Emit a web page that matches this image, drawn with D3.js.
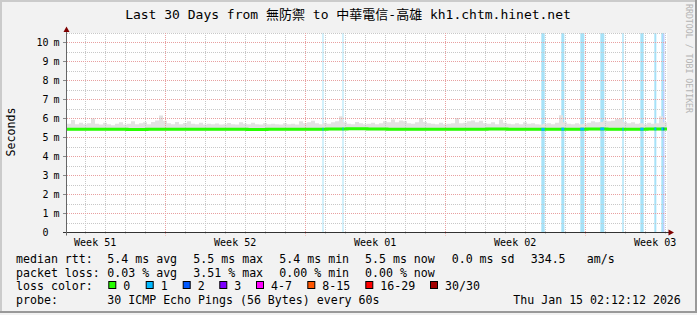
<!DOCTYPE html>
<html>
<head>
<meta charset="utf-8">
<script src="https://cdn.jsdelivr.net/npm/d3@7"></script>
<style>
  body { margin: 0; background: #fff; }
  text { font-family: "DejaVu Sans Mono", "Noto Sans CJK TC", monospace; }
</style>
</head>
<body>
<div id="chart"></div>
<script>
// Data
const startTime = "2025-12-16T02:12:12Z";
const endTime = "2026-01-15T02:12:12Z";
const smokeStepHours = 4.8;

// top of the smoke (slowest ping), ms, one value per 4.8 h
const smokeTop = [
  5.72, 5.92, 5.70, 5.78, 5.70, 5.75, 6.00, 5.72, 5.68, 5.78,
  5.70, 5.65, 5.72, 5.80, 5.68, 5.72, 5.85, 5.70, 5.75, 5.80,
  5.70, 5.82, 5.90, 6.16, 5.88, 5.75, 5.70, 5.82, 5.70, 5.76,
  5.85, 5.72, 5.70, 5.78, 5.68, 5.72, 5.70, 5.74, 5.68, 5.70,
  5.76, 5.70, 5.68, 5.80, 5.72, 5.70, 5.78, 5.70, 5.68, 5.75,
  5.70, 5.72, 5.70, 5.68, 5.75, 5.70, 5.72, 5.68, 5.85, 5.75,
  5.80, 5.88, 5.75, 5.70, 5.78, 5.72, 5.80, 5.85, 6.12, 5.80,
  5.72, 5.70, 5.82, 5.75, 5.70, 5.72, 5.78, 5.70, 5.75, 5.85,
  5.80, 5.95, 5.80, 5.90, 5.85, 5.75, 5.72, 5.80, 6.03, 5.82,
  5.75, 5.72, 5.70, 5.78, 5.70, 5.72, 5.75, 6.03, 5.75, 5.78,
  5.85, 5.90, 5.80, 5.88, 5.75, 5.72, 5.80, 5.70, 5.95, 5.78,
  5.72, 5.70, 5.75, 5.70, 5.80, 5.72, 5.75, 5.70, 5.68, 5.72,
  5.75, 5.70, 5.78, 6.17, 5.80, 5.72, 5.70, 5.75, 5.70, 5.72,
  5.78, 5.85, 5.80, 5.82, 5.90, 5.85, 5.88, 5.98, 6.00, 5.82,
  5.75, 5.80, 5.72, 5.75, 5.70, 5.78, 5.72, 5.75, 6.12, 5.80
];

// bottom of the smoke (fastest ping) and median rtt, ms, one value per day
const smokeMin = [
  5.36, 5.37, 5.36, 5.35, 5.36, 5.37, 5.36, 5.36, 5.35, 5.36,
  5.37, 5.36, 5.36, 5.37, 5.38, 5.37, 5.36, 5.36, 5.37, 5.36,
  5.36, 5.37, 5.36, 5.36, 5.37, 5.36, 5.37, 5.36, 5.37, 5.37
];
const medianRtt = [
  5.44, 5.43, 5.44, 5.42, 5.44, 5.43, 5.44, 5.44, 5.43, 5.42,
  5.44, 5.43, 5.44, 5.45, 5.46, 5.45, 5.44, 5.43, 5.44, 5.43,
  5.44, 5.45, 5.44, 5.43, 5.44, 5.44, 5.45, 5.44, 5.44, 5.45
];

// loss events
const lossStart = [
  "2025-12-28T20:48:00Z", "2025-12-29T20:48:00Z", "2026-01-08T19:24:00Z",
  "2026-01-09T19:24:00Z", "2026-01-10T18:12:00Z", "2026-01-11T18:12:00Z",
  "2026-01-12T20:36:00Z", "2026-01-13T18:12:00Z", "2026-01-14T11:00:00Z",
  "2026-01-14T19:24:00Z", "2026-01-14T21:48:00Z"
];
const lossHours = [1.2, 1.2, 4.0, 3.6, 4.8, 4.8, 1.6, 4.0, 2.4, 2.4, 1.2];
const lossCount = [1, 1, 1, 1, 1, 1, 1, 1, 1, 1, 2];

const yTicks = [0, 1, 2, 3, 4, 5, 6, 7, 8, 9, 10];
const yMinorTicks = [0.5, 1.5, 2.5, 3.5, 4.5, 5.5, 6.5, 7.5, 8.5, 9.5, 10.5];

const title = "Last 30 Days from 無防禦 to 中華電信-高雄 kh1.chtm.hinet.net";
const rttStats = ["median rtt:", "5.4 ms avg", "5.5 ms max", "5.4 ms min", "5.5 ms now", "0.0 ms sd", "334.5", "am/s"];
const lossStats = ["packet loss:", "0.03 % avg", "3.51 % max", "0.00 % min", "0.00 % now"];
const lossLabels = ["0", "1", "2", "3", "4-7", "8-15", "16-29", "30/30"];
const probeInfo = ["probe:", "30 ICMP Echo Pings (56 Bytes) every 60s", "Thu Jan 15 02:12:12 2026"];

// Styles / layout
const lossPalette = ["#26ff00", "#00b8ff", "#0059ff", "#7e00ff", "#ff00ff", "#ff5500", "#ff0000", "#a10000"];
const lossBgPalette = ["#ffffff", "#a6e2f8", "#a9bcff"];
const statCols = [16, 107.3, 193.3, 279.3, 365, 451.7, 530.7, 586.7];
const boxCols = [108.3, 145.7, 182.7, 219.3, 256, 307.3, 365.3, 430];
const rowY = [263, 276.5, 290, 303.5];

const dimensions = {
  width: 697,
  height: 315,
  left: 67,
  right: 667,
  top: 33,
  bottom: 232.5
};

const svg = d3
  .select("#chart")
  .append("svg")
  .attr("width", dimensions.width)
  .attr("height", dimensions.height);

// Background and frame
svg.append("rect").attr("width", dimensions.width).attr("height", dimensions.height).attr("fill", "#f2f2f2");
svg.append("rect").attr("x", 0).attr("y", 0).attr("width", 697).attr("height", 2).attr("fill", "#cbcbcb");
svg.append("rect").attr("x", 0).attr("y", 0).attr("width", 2).attr("height", 313).attr("fill", "#cbcbcb");
svg.append("rect").attr("x", 0).attr("y", 311).attr("width", 697).attr("height", 2).attr("fill", "#999");
svg.append("rect").attr("x", 695).attr("y", 0).attr("width", 2).attr("height", 313).attr("fill", "#999");

// Scales
const start = new Date(startTime);
const end = new Date(endTime);
const xScale = d3.scaleUtc().domain([start, end]).range([dimensions.left, dimensions.right]);
const yScale = d3.scaleLinear().domain([0, 10.5]).range([dimensions.bottom, dimensions.bottom - 19 * 10.5]);
const crisp = (v) => Math.round(v - 0.5) + 0.5;

// Canvas
svg
  .append("rect")
  .attr("x", dimensions.left)
  .attr("y", dimensions.top)
  .attr("width", dimensions.right - dimensions.left)
  .attr("height", dimensions.bottom - dimensions.top)
  .attr("fill", "#fff");

// Loss background bars
const lossData = lossStart.map((s, i) => {
  const t0 = new Date(s);
  return { t0, t1: new Date(+t0 + lossHours[i] * 3600e3), loss: lossCount[i] };
});

svg
  .append("g")
  .selectAll("rect")
  .data(lossData)
  .join("rect")
  .attr("x", (d) => xScale(d.t0))
  .attr("y", dimensions.top)
  .attr("width", (d) => Math.max(1, xScale(d.t1) - xScale(d.t0)))
  .attr("height", dimensions.bottom - dimensions.top)
  .attr("fill", (d) => lossBgPalette[d.loss]);

// Smoke
const smokeData = smokeTop.map((v, i) => {
  const t = new Date(+start + i * smokeStepHours * 3600e3);
  return { t, top: v, min: smokeMin[Math.floor((i * smokeStepHours) / 24)] };
});
smokeData.push({ t: end, top: smokeTop[smokeTop.length - 1], min: smokeMin[smokeMin.length - 1] });

svg
  .append("path")
  .datum(smokeData)
  .attr("fill", "#e2e2e2")
  .attr(
    "d",
    d3
      .area()
      .curve(d3.curveStepAfter)
      .x((d) => xScale(d.t))
      .y0((d) => yScale(d.min))
      .y1((d) => yScale(d.top))
  );

// Grid
const grid = svg.append("g").attr("stroke-dasharray", "1,1").attr("stroke-width", 1);

grid
  .selectAll(".hminor")
  .data(yMinorTicks)
  .join("line")
  .attr("x1", dimensions.left)
  .attr("x2", dimensions.right)
  .attr("y1", (d) => crisp(yScale(d)))
  .attr("y2", (d) => crisp(yScale(d)))
  .attr("stroke", "#c8c8c8");

const days = d3.utcDay.range(start, end);
const sundays = d3.utcSunday.range(start, end);

grid
  .selectAll(".vminor")
  .data(days.filter((d) => d.getUTCDay() !== 0))
  .join("line")
  .attr("x1", (d) => crisp(xScale(d)))
  .attr("x2", (d) => crisp(xScale(d)))
  .attr("y1", dimensions.top)
  .attr("y2", dimensions.bottom + 2)
  .attr("stroke", "#c8c8c8");

grid
  .selectAll(".hmajor")
  .data(yTicks.slice(1))
  .join("line")
  .attr("x1", dimensions.left)
  .attr("x2", dimensions.right)
  .attr("y1", (d) => crisp(yScale(d)))
  .attr("y2", (d) => crisp(yScale(d)))
  .attr("stroke", "#e8a0a0");

grid
  .selectAll(".vmajor")
  .data(sundays)
  .join("line")
  .attr("x1", (d) => crisp(xScale(d)))
  .attr("x2", (d) => crisp(xScale(d)))
  .attr("y1", dimensions.top)
  .attr("y2", dimensions.bottom + 3)
  .attr("stroke", "#e8a0a0");

// Y tick marks
svg
  .append("g")
  .selectAll("line")
  .data(yTicks)
  .join("line")
  .attr("x1", 63)
  .attr("x2", dimensions.left)
  .attr("y1", (d) => crisp(yScale(d)))
  .attr("y2", (d) => crisp(yScale(d)))
  .attr("stroke", "#888");

// Median line
const medianData = medianRtt.map((v, i) => ({ t: new Date(+start + i * 24 * 3600e3), v }));
medianData.push({ t: end, v: medianRtt[medianRtt.length - 1] });
const medianAt = (t) => medianRtt[Math.min(medianRtt.length - 1, Math.floor((t - start) / (24 * 3600e3)))];

svg
  .append("path")
  .datum(medianData)
  .attr("fill", "none")
  .attr("stroke", lossPalette[0])
  .attr("stroke-width", 3)
  .attr(
    "d",
    d3
      .line()
      .curve(d3.curveStepAfter)
      .x((d) => xScale(d.t))
      .y((d) => yScale(d.v))
  );

svg
  .append("g")
  .selectAll("line")
  .data(lossData)
  .join("line")
  .attr("x1", (d) => xScale(d.t0))
  .attr("x2", (d) => Math.max(xScale(d.t0) + 1, xScale(d.t1)))
  .attr("y1", (d) => yScale(medianAt(d.t0)))
  .attr("y2", (d) => yScale(medianAt(d.t0)))
  .attr("stroke", (d) => lossPalette[d.loss])
  .attr("stroke-width", 3);

// Axes
const axisColor = "#333";
svg
  .append("line")
  .attr("x1", 63)
  .attr("x2", dimensions.right + 2)
  .attr("y1", dimensions.bottom)
  .attr("y2", dimensions.bottom)
  .attr("stroke", axisColor);
svg
  .append("line")
  .attr("x1", 66.5)
  .attr("x2", 66.5)
  .attr("y1", dimensions.bottom + 3)
  .attr("y2", 30)
  .attr("stroke", "#666");
svg.append("path").attr("d", "M66.5,26.5L63.5,32L69.5,32Z").attr("fill", "#7f0000");
svg
  .append("path")
  .attr("d", `M674,${dimensions.bottom}L668.5,${dimensions.bottom - 3}L668.5,${dimensions.bottom + 3}Z`)
  .attr("fill", "#7f0000");

// Y labels
const yLabels = svg.append("g").style("font-size", "10px").attr("fill", "#000");
yLabels
  .selectAll(".num")
  .data(yTicks)
  .join("text")
  .attr("x", 48.5)
  .attr("y", (d) => yScale(d) + 3.5)
  .attr("text-anchor", "end")
  .text((d) => d);
yLabels
  .selectAll(".unit")
  .data(yTicks.slice(1))
  .join("text")
  .attr("x", 53.5)
  .attr("y", (d) => yScale(d) + 3.5)
  .text("m");

// Week labels
const weekMid = d3.utcSunday
  .range(d3.utcDay.offset(start, -7), end)
  .map((d) => new Date(+d + 3.5 * 24 * 3600e3))
  .filter((d) => d > start && d < end);
svg
  .append("g")
  .style("font-size", "10px")
  .selectAll("text")
  .data(weekMid)
  .join("text")
  .attr("x", (d) => xScale(d))
  .attr("y", 246)
  .attr("text-anchor", "middle")
  .text((d) => "Week " + d3.utcFormat("%V")(d));

// Title
svg
  .append("text")
  .attr("x", 348)
  .attr("y", 19)
  .attr("text-anchor", "middle")
  .style("font-size", "13px")
  .text(title);

// Y axis title
svg
  .append("text")
  .attr("transform", "translate(15,132) rotate(-90)")
  .attr("text-anchor", "middle")
  .style("font-size", "11.6px")
  .text("Seconds");

// Watermark
svg
  .append("text")
  .attr("transform", "translate(685.5,4) rotate(90)")
  .attr("textLength", 109)
  .attr("lengthAdjust", "spacingAndGlyphs")
  .style("font-size", "9px")
  .attr("fill", "#b4b4b4")
  .text("RRDTOOL / TOBI OETIKER");

// Legend
const legend = svg.append("g").style("font-size", "11.6px").attr("fill", "#000");
legend
  .selectAll(".rtt")
  .data(rttStats)
  .join("text")
  .attr("x", (d, i) => statCols[i])
  .attr("y", rowY[0])
  .text((d) => d);
legend
  .selectAll(".loss")
  .data(lossStats)
  .join("text")
  .attr("x", (d, i) => statCols[i])
  .attr("y", rowY[1])
  .text((d) => d);
legend.append("text").attr("x", statCols[0]).attr("y", rowY[2]).text("loss color:");
legend
  .selectAll(".box")
  .data(lossLabels)
  .join("rect")
  .attr("x", (d, i) => boxCols[i] + 0.5)
  .attr("y", rowY[2] - 8.5)
  .attr("width", 7)
  .attr("height", 7)
  .attr("fill", (d, i) => lossPalette[i])
  .attr("stroke", "#000");
legend
  .selectAll(".boxlabel")
  .data(lossLabels)
  .join("text")
  .attr("x", (d, i) => boxCols[i] + 15)
  .attr("y", rowY[2])
  .text((d) => d);
legend
  .selectAll(".probe")
  .data(probeInfo)
  .join("text")
  .attr("x", (d, i) => [statCols[0], statCols[1], 513.3][i])
  .attr("y", rowY[3])
  .text((d) => d);
</script>
</body>
</html>
